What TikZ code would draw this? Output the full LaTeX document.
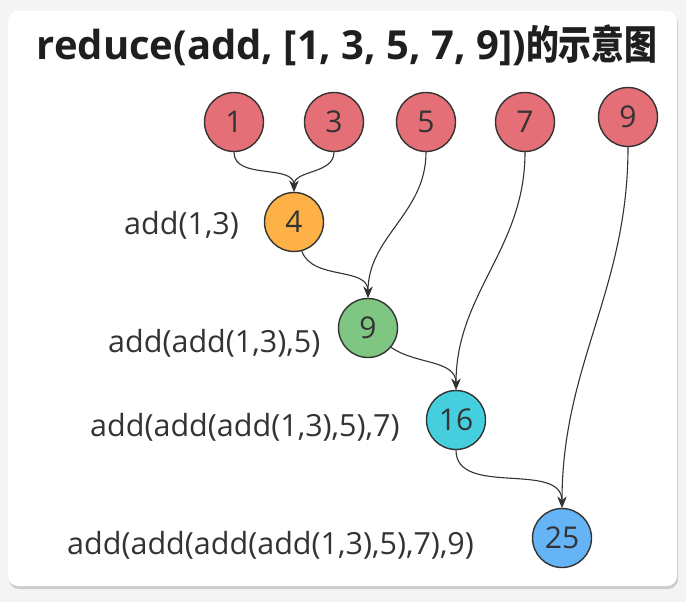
\documentclass[tikz,border=0pt]{standalone}
\usepackage{fontspec}
\setmainfont{Open Sans}
\newfontfamily\cjkfont[FakeStretch=0.82]{Noto Sans CJK SC}
\usetikzlibrary{arrows.meta, shadows}
\definecolor{pagegray}{RGB}{244, 244, 244}
\definecolor{inkgray}{RGB}{51, 51, 51}
\definecolor{itemred}{RGB}{229, 111, 118}
\definecolor{sumorange}{RGB}{253, 177, 71}
\definecolor{sumgreen}{RGB}{128, 198, 131}
\definecolor{sumcyan}{RGB}{69, 207, 222}
\definecolor{sumblue}{RGB}{100, 180, 246}

\begin{document}
\begin{tikzpicture}[x=1pt, y=-1pt,
  ball/.style={circle, draw=inkgray, line width=1.4pt, minimum size=59pt, inner sep=0pt, text=inkgray, font=\fontsize{30}{32}\selectfont},
  calltext/.style={anchor=west, inner sep=0pt, text=inkgray, font=\fontsize{30.5}{33}\selectfont},
  feed/.style={draw=inkgray, line width=1.1pt, -{Stealth[length=11pt, width=9pt]}}]
  % Page and card
  \fill[pagegray] (0, 0) rectangle (686, 602);
  \useasboundingbox (0, 0) rectangle (686, 602);
  \fill[white, rounded corners=10pt, drop shadow={shadow xshift=1pt, shadow yshift=-3pt, fill=black!35}] (8, 11) rectangle (677, 586);

  % Title
  \node[inner sep=0pt, text=black!88, font=\fontsize{40}{42}\selectfont\bfseries] (title) at (347, 45)
    {reduce(add, [1, 3, 5, 7, 9]){\cjkfont\bfseries 的示意图}};

  % Input items
  \node[ball, fill=itemred] (i1) at (234, 122) {1};
  \node[ball, fill=itemred] (i3) at (334, 122) {3};
  \node[ball, fill=itemred] (i5) at (426, 122) {5};
  \node[ball, fill=itemred] (i7) at (525, 122) {7};
  \node[ball, fill=itemred] (i9) at (628, 117) {9};

  % Partial sums
  \node[ball, fill=sumorange] (s4) at (294, 222) {4};
  \node[ball, fill=sumgreen] (s9) at (368, 328) {9};
  \node[ball, fill=sumcyan] (s16) at (456, 420) {16};
  \node[ball, fill=sumblue] (s25) at (562, 538) {25};

  % Calls
  \node[calltext] (c4) at (124, 225) {add(1,3)};
  \node[calltext] (c9) at (108, 343) {add(add(1,3),5)};
  \node[calltext] (c16) at (90, 427) {add(add(add(1,3),5),7)};
  \node[calltext] (c25) at (67, 545) {add(add(add(add(1,3),5),7),9)};

  % Reduction steps
  \draw[feed] (i1.south) to[out=-90, in=90] (s4.north);
  \draw[feed] (i3.south) to[out=-90, in=90] (s4.north);
  \draw[feed] (s4.-75) to[out=-70, in=90] (s9.north);
  \draw[feed] (i5.south) to[out=-90, in=90] (s9.north);
  \draw[feed] (s9.-40) to[out=-35, in=90] (s16.north);
  \draw[feed] (i7.south) to[out=-90, in=90] (s16.north);
  \draw[feed] (s16.south) to[out=-90, in=90] (s25.north);
  \draw[feed] (i9.south) to[out=-90, in=90] (s25.north);
\end{tikzpicture}
\end{document}
